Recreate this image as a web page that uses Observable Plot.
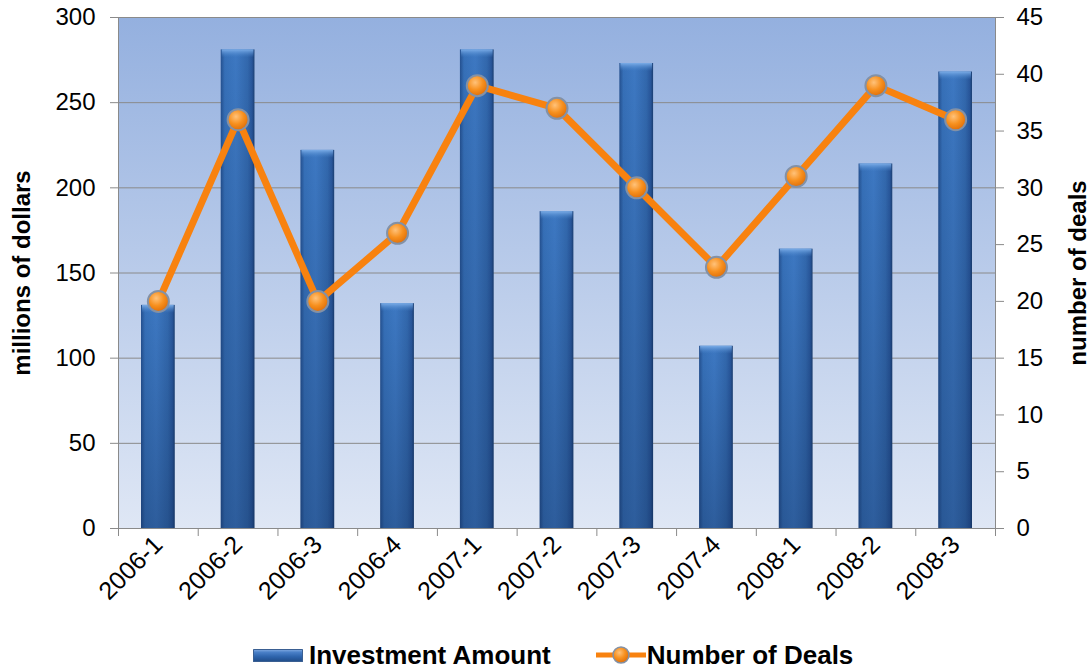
<!DOCTYPE html>
<html>
<head>
<meta charset="utf-8">
<script src="https://cdn.jsdelivr.net/npm/d3@7"></script>
<script src="https://cdn.jsdelivr.net/npm/@observablehq/plot@0.6"></script>
<style>
  html, body { margin: 0; padding: 0; background: #fff; }
  #chart { width: 1092px; }
  svg { display: block; font-family: "Liberation Sans", Arial, sans-serif; }
  #legend { display: flex; align-items: center; padding-left: 253px; margin-top: 2px;
    font-family: "Liberation Sans", Arial, sans-serif; font-weight: bold; font-size: 26px; line-height: 26px; color: #000; }
  .sw-bar { width: 50px; height: 13px; margin-right: 6px; border-radius: 1px;
    background: linear-gradient(to bottom, #8db3e6 0%, #4a80c8 25%, #2d63ab 60%, #1f4a85 100%);
    box-shadow: 0 0 0 1px #3a5f92 inset; }
</style>
</head>
<body>
<div id="chart"></div>
<div id="legend">
  <div class="sw-bar"></div><span>Investment Amount</span>
  <svg width="52" height="24" style="margin-left:44px;display:block">
    <defs>
      <radialGradient id="lgDot" cx="0.4" cy="0.35" r="0.65">
        <stop offset="0" stop-color="#ffc27a"/><stop offset="0.55" stop-color="#f7901e"/><stop offset="1" stop-color="#e0700a"/>
      </radialGradient>
    </defs>
    <line x1="1" y1="12" x2="51" y2="12" stroke="#f8820f" stroke-width="5"/>
    <circle cx="26" cy="12" r="8" fill="url(#lgDot)" stroke="#8391a6" stroke-width="1.5"/>
  </svg><span>Number of Deals</span>
</div>
<script>
const quarters = ["2006-1","2006-2","2006-3","2006-4","2007-1","2007-2","2007-3","2007-4","2008-1","2008-2","2008-3"];
const investment = [131, 281, 222, 132, 281, 186, 273, 107, 164, 214, 268];
const deals = [20, 36, 20, 26, 39, 37, 30, 23, 31, 39, 36];
const leftTicks = [0, 50, 100, 150, 200, 250, 300];
const rightTicks = [0, 5, 10, 15, 20, 25, 30, 35, 40, 45];
const leftMax = 300, rightMax = 45;

const data = quarters.map((q, i) => ({q, amt: investment[i], deals: deals[i]}));
const toLeft = v => v * leftMax / rightMax;

const W = 1092, H = 640, ML = 118, MR = 97, MT = 17, MB = 112;
const band = (W - ML - MR) / quarters.length;
const grid = "#8a8a8a";

const chart = Plot.plot({
  width: W, height: H,
  marginLeft: ML, marginRight: MR, marginTop: MT, marginBottom: MB,
  style: {fontFamily: "Liberation Sans, Arial, sans-serif", fontSize: "24px", background: "transparent", overflow: "visible"},
  x: {type: "band", domain: quarters, padding: 0, round: false},
  y: {domain: [0, leftMax]},
  marks: [
    Plot.frame({fill: "url(#bgGrad)"}),
    Plot.gridY(leftTicks, {stroke: grid, strokeOpacity: 1, strokeWidth: 1}),
    Plot.barY(data, {x: "q", y: "amt", fill: "url(#barGrad)", insetLeft: 23, insetRight: 23}),
    Plot.barY(data, {x: "q", y: "amt", fill: "url(#barShade)", insetLeft: 23, insetRight: 23}),
    Plot.barY(data, {x: "q", y1: "amt", y2: "amt", insetBottom: -8, fill: "url(#bevel)", insetLeft: 24, insetRight: 24}),
    Plot.line(data, {x: "q", y: d => toLeft(d.deals), stroke: "#f8820f", strokeWidth: 7, strokeLinejoin: "round"}),
    Plot.dot(data, {x: "q", y: d => toLeft(d.deals), r: 10.5, fill: "url(#dotGrad)", stroke: "#8391a6", strokeWidth: 2}),
    Plot.frame({stroke: grid, strokeWidth: 1}),
    Plot.axisY(leftTicks, {anchor: "left", tickSize: 8, tickPadding: 15, stroke: grid, fill: "#000", fontSize: 24, label: null}),
    Plot.axisY(rightTicks.map(toLeft), {anchor: "right", tickSize: 8, tickPadding: 13, stroke: grid, fill: "#000", fontSize: 24,
      tickFormat: v => String(Math.round(v * rightMax / leftMax)), label: null}),
    Plot.axisX(quarters, {tickSize: 8, tickFormat: () => "", dx: -band / 2, stroke: grid, label: null}),
    Plot.axisX([quarters[quarters.length - 1]], {tickSize: 8, tickFormat: () => "", dx: band / 2, stroke: grid, label: null}),
    Plot.axisX(quarters, {tickSize: 0, tickPadding: 12, tickRotate: -45, fill: "#000", fontSize: 25, label: null}),
    Plot.text(["millions of dollars"], {frameAnchor: "left", textAnchor: "middle", dx: -96, rotate: -90, fontSize: 24, fontWeight: "bold", fill: "#000"}),
    Plot.text(["number of deals"], {frameAnchor: "right", textAnchor: "middle", dx: 83, rotate: -90, fontSize: 24, fontWeight: "bold", fill: "#000"})
  ]
});

const defs = d3.select(chart).insert("defs", ":first-child");
const bg = defs.append("linearGradient").attr("id", "bgGrad").attr("x1", 0).attr("y1", 0).attr("x2", 0).attr("y2", 1);
bg.append("stop").attr("offset", 0).attr("stop-color", "#94b0df");
bg.append("stop").attr("offset", 1).attr("stop-color", "#dfe7f5");
const bar = defs.append("linearGradient").attr("id", "barGrad").attr("x1", 0).attr("y1", 0).attr("x2", 1).attr("y2", 0);
[[0, "#24508f"], [0.12, "#3670b8"], [0.45, "#3d78c2"], [0.8, "#3268ad"], [0.93, "#28569a"], [1, "#1b3f72"]]
  .forEach(([o, c]) => bar.append("stop").attr("offset", o).attr("stop-color", c));
const shade = defs.append("linearGradient").attr("id", "barShade").attr("x1", 0).attr("y1", 0).attr("x2", 0).attr("y2", 1);
shade.append("stop").attr("offset", 0).attr("stop-color", "#0a1f45").attr("stop-opacity", 0);
shade.append("stop").attr("offset", 1).attr("stop-color", "#0a1f45").attr("stop-opacity", 0.3);
const bev = defs.append("linearGradient").attr("id", "bevel").attr("x1", 0).attr("y1", 0).attr("x2", 0).attr("y2", 1);
bev.append("stop").attr("offset", 0).attr("stop-color", "#7fb0ea").attr("stop-opacity", 0.95);
bev.append("stop").attr("offset", 1).attr("stop-color", "#4a85cc").attr("stop-opacity", 0);
const dot = defs.append("radialGradient").attr("id", "dotGrad").attr("cx", 0.4).attr("cy", 0.35).attr("r", 0.65);
[[0, "#ffc27a"], [0.55, "#f7901e"], [1, "#e0700a"]]
  .forEach(([o, c]) => dot.append("stop").attr("offset", o).attr("stop-color", c));

document.getElementById("chart").appendChild(chart);
</script>
</body>
</html>
